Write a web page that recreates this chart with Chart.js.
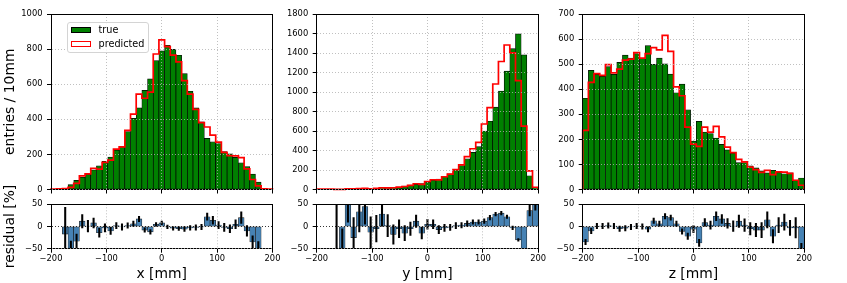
<!DOCTYPE html>
<html><head><meta charset="utf-8">
<script src="https://cdn.jsdelivr.net/npm/chart.js@4.4.1/dist/chart.umd.min.js"></script>
<style>
html,body{margin:0;padding:0;background:#fff;}
#wrap{position:relative;width:847px;height:283px;overflow:hidden;background:#fff;}
canvas{position:absolute;}
#legend{position:absolute;left:66.5px;top:22px;width:82px;height:31px;box-sizing:border-box;border:1px solid #d4d4d4;border-radius:3px;background:rgba(255,255,255,0.85);font-family:'DejaVu Sans';font-size:9.7px;color:#000;}
#legend .sw{position:absolute;left:3px;width:20.5px;height:6.8px;box-sizing:border-box;}
#legend .tx{position:absolute;left:31px;line-height:12px;white-space:nowrap;}
</style></head><body>
<div id="wrap">
<canvas id="t1" width="285" height="199" style="left:0px;top:0px"></canvas>
<canvas id="t2" width="279" height="199" style="left:272px;top:0px"></canvas>
<canvas id="t3" width="279" height="199" style="left:538px;top:0px"></canvas>
<canvas id="r1" width="285" height="133" style="left:0px;top:150px"></canvas>
<canvas id="r2" width="279" height="133" style="left:272px;top:150px"></canvas>
<canvas id="r3" width="279" height="133" style="left:538px;top:150px"></canvas>
<div id="legend"></div>
</div>
<script>
// ---- bins (39 bins between -200 and 200 mm) ----
const binEdges = [-200, -189.74, -179.49, -169.23, -158.97, -148.72, -138.46, -128.21, -117.95, -107.69,
  -97.44, -87.18, -76.92, -66.67, -56.41, -46.15, -35.90, -25.64, -15.38, -5.13,
  5.13, 15.38, 25.64, 35.90, 46.15, 56.41, 66.67, 76.92, 87.18, 97.44,
  107.69, 117.95, 128.21, 138.46, 148.72, 158.97, 169.23, 179.49, 189.74, 200];

// ---- x panel ----
const xTrue = [0, 0, 6, 28, 52, 70, 88, 112, 135, 160, 185, 225, 245, 330, 405, 465, 565, 630, 735, 790,
  822, 798, 765, 660, 560, 465, 385, 292, 272, 262, 216, 203, 183, 152, 130, 88, 42, 0, 0];
const xPred = [3, 4, 5, 12, 35, 78, 89, 121, 116, 155, 167, 230, 243, 337, 430, 544, 520, 555, 772, 853,
  814, 766, 727, 620, 543, 456, 381, 356, 310, 270, 212, 193, 192, 182, 117, 57, 21, 4, 2];
const xResid = [null, null, -17, -55, -33, 12, 1, 8, -14, -3, -10, 2, -1, 2, 6, 17, -8, -12, 5, 8,
  -1, -4, -5, -6, -3, -2, -1, 22, 14, 3, -2, -5, 5, 20, -10, -35, -52, null, null];
const xResidErr = [null, null, 60, 22, 16, 15, 13, 11, 10, 9, 8, 7, 7, 6, 6, 6, 5, 5, 4, 4,
  4, 4, 4, 5, 5, 6, 6, 8, 9, 8, 9, 9, 10, 13, 12, 14, 18, null, null];

// ---- y panel ----
const yTrue = [0, 0, 0, 2, 5, 3, 8, 6, 9, 8, 12, 14, 17, 22, 25, 36, 45, 53, 62, 78,
  95, 106, 135, 160, 200, 245, 315, 380, 440, 600, 700, 845, 1010, 1215, 1445, 1596, 1381, 141, 13];
const yPred = [3, 3, 4, 2, 2, 6, 6, 8, 13, 7, 11, 18, 17, 18, 24, 31, 43, 59, 53, 82,
  100, 99, 131, 157, 204, 252, 337, 418, 484, 672, 840, 1082, 1313, 1482, 1402, 1117, 650, 192, 23];
const yResid = [null, null, null, 0, -60, 100, -25, 33, 45, -13, -5, 28, 2, -18, -5, -15, -5, 12, -15, 5,
  5, -7, -3, -2, 2, 3, 7, 10, 10, 12, 20, 28, 30, 22, -3, -30, -53, 36, 77];
const yResidErr = [null, null, null, 100, 55, 90, 45, 45, 40, 35, 30, 28, 25, 22, 20, 17, 15, 14, 13, 11,
  10, 9, 8, 7, 7, 6, 6, 5, 5, 5, 5, 4, 4, 4, 4, 3, 3, 12, 40];

// ---- z panel ----
const zTrue = [364, 475, 459, 451, 490, 459, 507, 536, 524, 542, 523, 574, 499, 524, 501, 460, 386, 420, 318, 193,
  272, 229, 223, 205, 180, 158, 145, 107, 107, 94, 86, 74, 66, 76, 68, 63, 66, 38, 46];
const zPred = [236, 427, 462, 455, 498, 465, 480, 516, 520, 546, 524, 542, 566, 557, 615, 551, 409, 374, 249, 181,
  172, 249, 229, 252, 210, 169, 147, 120, 110, 89, 79, 68, 76, 59, 70, 69, 64, 37, 17];
const zResid = [-35, -10, 1, 1, 2, 1, -5, -4, -1, 1, 0, -6, 13, 6, 23, 20, 6, -11, -22, -6,
  -37, 9, 3, 23, 17, 7, 1, 12, 3, -5, -8, -8, 15, -22, 3, 10, -3, -3, -63];
const zResidErr = [6, 6, 6, 6, 6, 6, 6, 6, 6, 6, 6, 6, 6, 6, 6, 6, 6, 6, 7, 8,
  8, 9, 9, 10, 10, 11, 12, 14, 14, 14, 15, 17, 18, 15, 17, 18, 17, 23, 25];

// ---- ticks and labels ----
const posTicks = [-200, -100, 0, 100, 200];
const xCountTicks = [0, 200, 400, 600, 800, 1000];
const yCountTicks = [0, 200, 400, 600, 800, 1000, 1200, 1400, 1600, 1800];
const zCountTicks = [0, 100, 200, 300, 400, 500, 600, 700];
const residTicks = [-50, 0, 50];
const axisTitles = ['x [mm]', 'y [mm]', 'z [mm]'];
const countTitle = 'entries / 10mm';
const residTitle = 'residual [%]';
const legendLabels = ['true', 'predicted'];

// ---- styling / layout ----
Chart.defaults.font.family = "'DejaVu Sans'";
Chart.defaults.color = '#000';
const GRID = '#b0b0b0';
const TICK_FONT = {size: 8.33};
const TITLE_FONT = {size: 13.9};
const PANEL_W = 221.5;

const centers = binEdges.slice(0, -1).map((e, i) => (e + binEdges[i + 1]) / 2);
const fmt = v => v < 0 ? '\u2212' + Math.abs(v) : String(v);
const setTicks = vals => s => { s.ticks = vals.map(v => ({value: v})); };

function frameAxes() {
  return {
    xTop: {type: 'linear', position: 'top', display: true, offset: false, grid: {display: false}, ticks: {display: false},
      border: {display: true, color: '#000', width: 1, z: 1}, afterFit: s => { s.height = 0; }},
    yRight: {type: 'linear', position: 'right', display: true, grid: {display: false}, ticks: {display: false},
      border: {display: true, color: '#000', width: 1, z: 1}, afterFit: s => { s.width = 0; }}
  };
}

function topChart(id, cw, axW, trueVals, predVals, yMax, yTicks, title) {
  const steps = [{x: binEdges[0], y: 0}];
  predVals.forEach((v, i) => steps.push({x: binEdges[i + 1], y: v}));
  steps.push({x: binEdges[binEdges.length - 1], y: 0});
  new Chart(document.getElementById(id), {
    data: {datasets: [
      {type: 'line', label: legendLabels[1], data: steps, stepped: 'after', borderColor: '#ff0000',
        backgroundColor: '#ffffff', borderWidth: 1.7, pointRadius: 0, fill: false, order: 0, clip: 2,
        borderJoinStyle: 'miter'},
      {type: 'bar', label: legendLabels[0], data: centers.map((c, i) => ({x: c, y: trueVals[i]})),
        backgroundColor: '#008000', borderColor: '#000', borderWidth: 0.7, borderSkipped: false,
        barPercentage: 1, categoryPercentage: 1, grouped: false, order: 1, clip: 0}
    ]},
    options: {
      responsive: false, animation: false, devicePixelRatio: 1, events: [],
      layout: {padding: {left: 0, top: 14, right: cw - axW - PANEL_W, bottom: 0}},
      plugins: {legend: {display: false}, tooltip: {enabled: false}},
      scales: Object.assign({
        x: {type: 'linear', min: -200, max: 200, offset: false, afterBuildTicks: setTicks(posTicks),
          ticks: {callback: () => '', font: TICK_FONT},
          grid: {color: GRID, lineWidth: 0.8, tickLength: 4, tickColor: '#000', tickWidth: 1, z: 1, offset: false},
          border: {display: true, color: '#000', width: 1, dash: [1, 2], z: 1},
          afterFit: s => { s.height = 6; }},
        y: {type: 'linear', min: 0, max: yMax, afterBuildTicks: setTicks(yTicks),
          ticks: {callback: v => fmt(v), font: TICK_FONT, padding: 4.5},
          grid: {color: GRID, lineWidth: 0.8, tickLength: 4, tickColor: '#000', tickWidth: 1, z: 1},
          border: {display: true, color: '#000', width: 1, dash: [1, 2], z: 1},
          title: {display: !!title, text: title || '', font: TITLE_FONT, padding: {top: 2.5, bottom: 0}},
          afterFit: s => { s.width = axW; }}
      }, frameAxes())
    }
  });
}

function residChart(id, cw, axW, resid, err, xTitle, title) {
  const idx = centers.map((c, i) => i).filter(i => resid[i] !== null);
  new Chart(document.getElementById(id), {
    data: {datasets: [
      {type: 'bar', data: idx.map(i => ({x: centers[i], y: [resid[i] - err[i], resid[i] + err[i]]})),
        backgroundColor: '#000', borderWidth: 0, barThickness: 1.4, grouped: false, order: 0, clip: 0},
      {type: 'bar', data: idx.map(i => ({x: centers[i], y: resid[i]})),
        backgroundColor: '#4682b4', borderColor: '#1a1a1a', borderWidth: 0.6, borderSkipped: false,
        barPercentage: 1, categoryPercentage: 1, grouped: false, order: 1, clip: 0}
    ]},
    options: {
      responsive: false, animation: false, devicePixelRatio: 1, events: [],
      layout: {padding: {left: 0, top: 54.3, right: cw - axW - PANEL_W, bottom: 0}},
      plugins: {legend: {display: false}, tooltip: {enabled: false}},
      scales: Object.assign({
        x: {type: 'linear', min: -200, max: 200, offset: false, afterBuildTicks: setTicks(posTicks),
          ticks: {callback: v => fmt(v), font: TICK_FONT, padding: 1, maxRotation: 0, autoSkip: false},
          grid: {color: GRID, lineWidth: 0.8, tickLength: 4, tickColor: '#000', tickWidth: 1, z: 1, offset: false},
          border: {display: true, color: '#000', width: 1, dash: [1, 2], z: 1},
          title: {display: true, text: xTitle, font: TITLE_FONT, padding: {top: 0, bottom: 0}},
          afterFit: s => { s.height = 34.3; }},
        y: {type: 'linear', min: -50, max: 50, afterBuildTicks: setTicks(residTicks),
          ticks: {callback: v => fmt(v), font: TICK_FONT, padding: 4.5},
          grid: {color: c => (c.tick && c.tick.value === 0) ? '#000' : GRID, lineWidth: 0.8,
            tickLength: 4, tickColor: '#000', tickWidth: 1, z: 1},
          border: {display: true, color: '#000', width: 1, dash: [1, 2], z: 1},
          title: {display: !!title, text: title || '', font: TITLE_FONT, padding: {top: 2.5, bottom: 0}},
          afterFit: s => { s.width = axW; }}
      }, frameAxes())
    }
  });
}

topChart('t1', 285, 51, xTrue, xPred, 1000, xCountTicks, countTitle);
topChart('t2', 279, 44.7, yTrue, yPred, 1800, yCountTicks, null);
topChart('t3', 279, 44.7, zTrue, zPred, 700, zCountTicks, null);
residChart('r1', 285, 51, xResid, xResidErr, axisTitles[0], residTitle);
residChart('r2', 279, 44.7, yResid, yResidErr, axisTitles[1], null);
residChart('r3', 279, 44.7, zResid, zResidErr, axisTitles[2], null);

// legend (text kept as real text)
const lg = document.getElementById('legend');
const swStyles = ['background:#008000;border:1px solid #000;', 'background:#fff;border:1.7px solid #ff0000;'];
legendLabels.forEach((t, i) => {
  const sw = document.createElement('div');
  sw.className = 'sw'; sw.style.cssText = swStyles[i] + 'top:' + (3.7 + 14 * i) + 'px;';
  const tx = document.createElement('div');
  tx.className = 'tx'; tx.style.top = (1 + 14 * i) + 'px'; tx.textContent = t;
  lg.appendChild(sw); lg.appendChild(tx);
});
</script>
</body></html>
